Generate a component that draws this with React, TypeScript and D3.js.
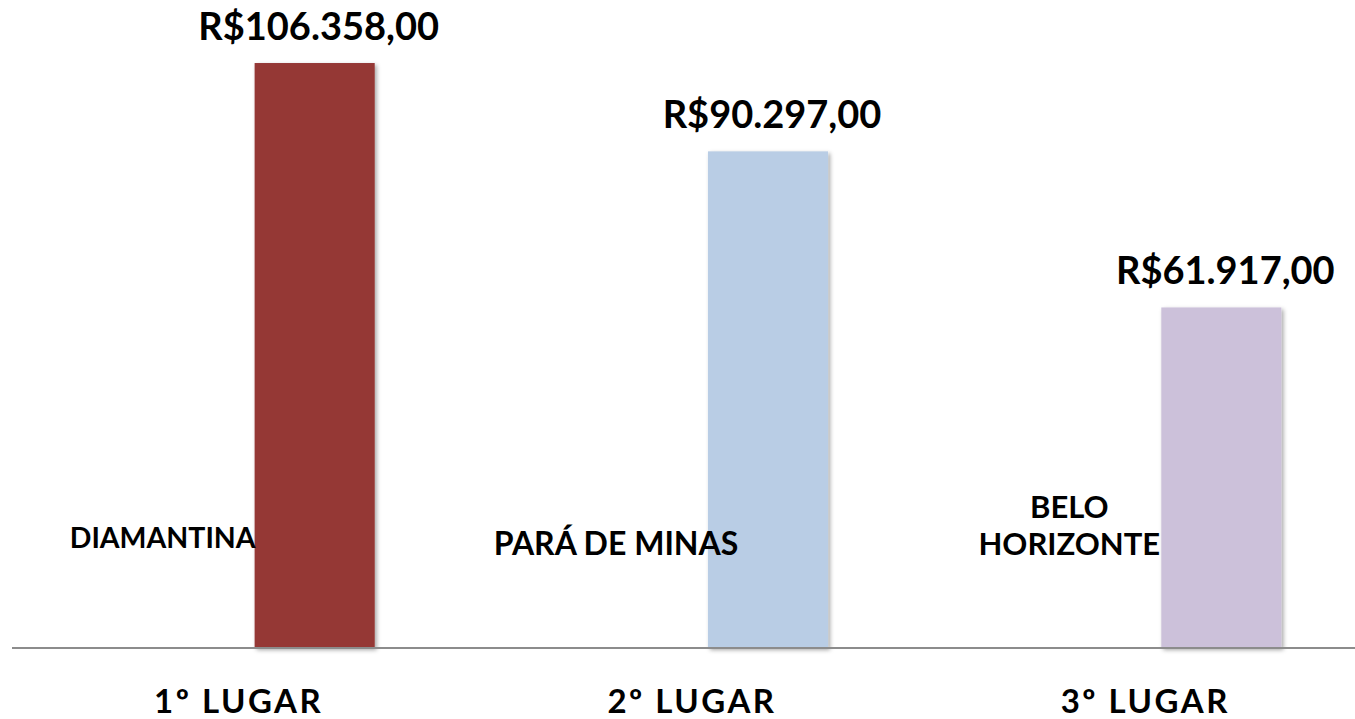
import React, { FC, useEffect, useRef } from "react";
import * as d3 from "d3";

// chart data
const categories: string[] = ["1º LUGAR", "2º LUGAR", "3º LUGAR"];
const cities: string[][] = [["DIAMANTINA"], ["PARÁ DE MINAS"], ["BELO", "HORIZONTE"]];
const values: number[] = [106358, 90297, 61917];
const barColors: string[] = ["#953735", "#B9CDE5", "#CCC1DA"];

const width = 1355;
const height = 719;
const fontFamily = "Lato, 'Open Sans', sans-serif";

const fmtBRL = (v: number) =>
    "R$" + d3.format(",.2f")(v).replace(/,/g, "#").replace(/\./g, ",").replace(/#/g, ".");

const App: FC = () => {
    const svgRef = useRef<SVGSVGElement | null>(null);

    useEffect(() => {
        if (!svgRef.current) return;

        const svg = d3.select(svgRef.current)
            .attr("width", width)
            .attr("height", height)
            .attr("viewBox", `0 0 ${width} ${height}`)
            .style("background", "#ffffff");

        svg.selectAll("*").remove();

        const baseY = 648;

        // outer band = place (1º, 2º, 3º), inner band = [city label slot, bar slot]
        const x = d3.scaleBand<string>()
            .domain(categories)
            .range([12, 1372]);

        const inner = d3.scaleBand<string>()
            .domain(["name", "value"])
            .range([-152, 152])
            .paddingInner(0.21)
            .paddingOuter(0.105);

        const y = d3.scaleLinear()
            .domain([0, 120000])
            .range([baseY, -12]);

        const defs = svg.append("defs");
        const shadow = defs.append("filter")
            .attr("id", "barShadow")
            .attr("x", "-20%").attr("y", "-10%")
            .attr("width", "140%").attr("height", "120%");
        shadow.append("feDropShadow")
            .attr("dx", 2)
            .attr("dy", 2)
            .attr("stdDeviation", 2)
            .attr("flood-color", "#000")
            .attr("flood-opacity", 0.35);

        const center = (i: number) => (x(categories[i]) || 0) + x.bandwidth() / 2;

        // bars
        svg.append("g")
            .selectAll("rect")
            .data(values)
            .join("rect")
            .attr("x", (d, i) => center(i) + (inner("value") || 0))
            .attr("y", d => y(d))
            .attr("width", inner.bandwidth())
            .attr("height", d => baseY - y(d))
            .attr("fill", (d, i) => barColors[i])
            .attr("filter", "url(#barShadow)");

        // baseline
        svg.append("line")
            .attr("x1", 12)
            .attr("x2", 1372)
            .attr("y1", baseY)
            .attr("y2", baseY)
            .attr("stroke", "#8c8c8c")
            .attr("stroke-width", 2);

        // value labels above bars
        svg.append("g")
            .selectAll("text")
            .data(values)
            .join("text")
            .attr("x", (d, i) => center(i) + (inner("value") || 0) + inner.bandwidth() / 2 + 4)
            .attr("y", d => y(d) - 23)
            .attr("text-anchor", "middle")
            .attr("font-family", fontFamily)
            .attr("font-weight", 700)
            .attr("font-size", 38)
            .attr("fill", "#000")
            .text(d => fmtBRL(d));

        // city labels to the left of the bars
        const citySizes = [28.5, 32, 31];
        const cityG = svg.append("g");
        cities.forEach((lines, i) => {
            const cx = center(i) + (inner("name") || 0) + inner.bandwidth() / 2;
            const t = cityG.append("text")
                .attr("text-anchor", "middle")
                .attr("font-family", fontFamily)
                .attr("font-weight", 700)
                .attr("font-size", citySizes[i])
                .attr("fill", "#000");
            lines.forEach((line, j) => {
                t.append("tspan")
                    .attr("x", cx)
                    .attr("y", 555 - (i === 0 ? 7 : 0) - (lines.length - 1 - j) * 37)
                    .text(line);
            });
        });

        // category axis labels
        svg.append("g")
            .selectAll("text")
            .data(categories)
            .join("text")
            .attr("x", (d, i) => center(i))
            .attr("y", 713)
            .attr("text-anchor", "middle")
            .attr("font-family", fontFamily)
            .attr("font-weight", 700)
            .attr("font-size", 33)
            .attr("letter-spacing", 2.5)
            .attr("fill", "#000")
            .text(d => d);
    }, []);

    return (
        <svg ref={svgRef} style={{ position: "absolute", left: 0, top: 0, display: "block" }}></svg>
    );
};

export default App;
